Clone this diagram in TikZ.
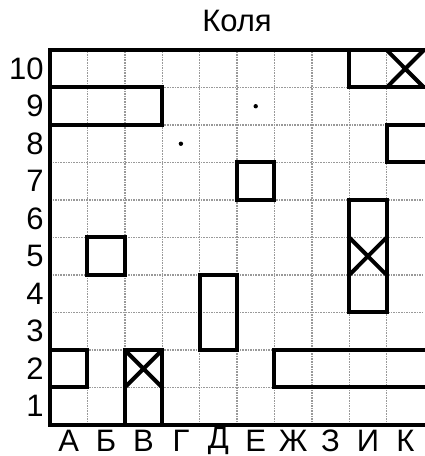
\documentclass[tikz,border=0pt]{standalone}
\usepackage{fontspec}
\setmainfont{Liberation Sans}
\begin{document}
\begin{tikzpicture}[x=18.7pt,y=18.75pt,
  gridline/.style={gray!80,line width=0.7pt,dash pattern=on 0.8pt off 0.5pt},
  frame/.style={black,line width=2pt,line cap=rect},
  ship/.style={black,line width=2pt,line cap=rect,line join=miter},
  hit/.style={black,line width=2pt},
  lbl/.style={font=\fontsize{15.5}{18}\selectfont,inner sep=0pt}]
\useasboundingbox (-1.337,-0.827) rectangle (10,11.333);
% grid
\foreach \i in {1,...,9} {
  \draw[gridline] (\i,0) -- (\i,10);
  \draw[gridline] (0,\i) -- (10,\i);
}
% frame
\draw[frame] (10,10) -- (0,10) -- (0,0) -- (10,0);
% ships
\draw[ship] (10,9) -- (8,9) -- (8,10) -- (10,10);
\draw[ship] (0,8) rectangle (3,9);
\draw[ship] (10,7) -- (9,7) -- (9,8) -- (10,8);
\draw[ship] (5,6) rectangle (6,7);
\draw[ship] (8,3) rectangle (9,6);
\draw[ship] (1,4) rectangle (2,5);
\draw[ship] (4,2) rectangle (5,4);
\draw[ship] (0,1) rectangle (1,2);
\draw[ship] (2,0) rectangle (3,2);
\draw[ship] (10,1) -- (6,1) -- (6,2) -- (10,2);
% hits
\draw[hit] (2,1) -- (3,2) (2,2) -- (3,1);
\draw[hit] (8,4) -- (9,5) (8,5) -- (9,4);
\draw[hit] (9,9) -- (10,10) (9,10) -- (10,9);
% misses
\fill (3.5,7.5) circle (1.1pt);
\fill (5.5,8.5) circle (1.1pt);
% labels
\node[lbl] (title) at (5,10.77) {Коля};
\foreach \r in {1,...,10} {
  \node[lbl,anchor=east] (row\r) at (-0.16,\r-0.5) {\r};
}
\foreach \c [count=\k from 0] in {А,Б,В,Г,Д,Е,Ж,З,И,К} {
  \node[lbl] (col\k) at (\k+0.5,-0.43) {\c};
}
\end{tikzpicture}
\end{document}
